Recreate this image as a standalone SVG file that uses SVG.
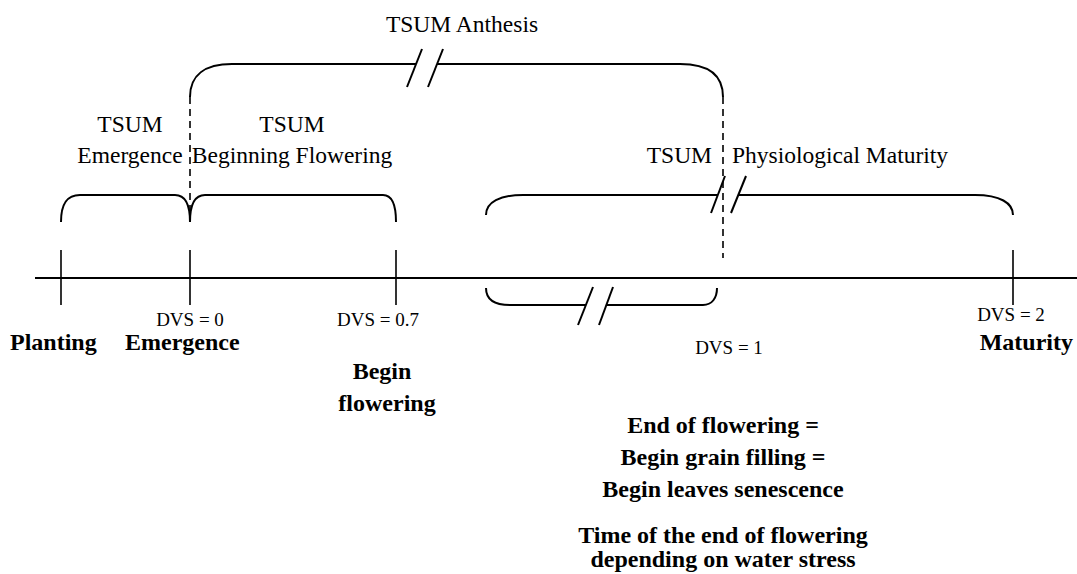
<svg xmlns="http://www.w3.org/2000/svg" width="1077" height="574" viewBox="0 0 1077 574">
<style>
.ln{fill:none;stroke:#000;stroke-width:2}
.tk{fill:none;stroke:#000;stroke-width:1.6}
.ds{fill:none;stroke:#000;stroke-width:1.6;stroke-dasharray:7 5}
text{font-family:'Liberation Serif','Times New Roman','DejaVu Serif',serif;fill:#000}
.t{font-size:23.5px}
.d{font-size:19px}
.b{font-size:24px;font-weight:bold}
.m{text-anchor:middle}
</style>
<rect width="1077" height="574" fill="#fff"/>
<g id="axis">
<line class="ln" x1="35" y1="278" x2="1077" y2="278"/>
<line class="tk" x1="61" y1="250" x2="61" y2="305"/>
<line class="tk" x1="190" y1="250" x2="190" y2="305"/>
<line class="tk" x1="396" y1="250" x2="396" y2="305"/>
<line class="tk" x1="1013" y1="250" x2="1013" y2="305"/>
</g>
<g id="connectors">
<line class="ds" x1="190" y1="97" x2="190" y2="212"/>
<line class="ds" x1="723" y1="97" x2="723" y2="258"/>
</g>
<g id="brace-emergence">
<path class="ln" d="M61,222 C61,205 66,195 80,195 L175,195 C186,195 190,205 190,222"/>
<text class="t m" x="130" y="132" font-family="Liberation Serif, serif">TSUM</text>
<text class="t m" x="130" y="163" font-family="Liberation Serif, serif">Emergence</text>
</g>
<g id="brace-beginflowering">
<path class="ln" d="M190,222 C190,205 194,195 205,195 L383,195 C392,195 396,205 396,222"/>
<text class="t m" x="292" y="132" font-family="Liberation Serif, serif">TSUM</text>
<text class="t m" x="292" y="163" font-family="Liberation Serif, serif">Beginning Flowering</text>
</g>
<g id="brace-anthesis">
<path class="ln" d="M190,97 C190,75 205,64 232,64 L416,64 M437,64 L680,64 C708,64 723,75 723,97"/>
<line class="ln" x1="407" y1="87" x2="422" y2="49"/>
<line class="ln" x1="428" y1="87" x2="443" y2="49"/>
<text class="t m" x="462" y="32" font-family="Liberation Serif, serif">TSUM Anthesis</text>
</g>
<g id="brace-maturity">
<path class="ln" d="M486,215 C486,202 500,195 523,195 L718,195 M738,195 L975,195 C1000,195 1013,203 1013,215"/>
<line class="ln" x1="711" y1="213" x2="725" y2="176"/>
<line class="ln" x1="731" y1="213" x2="746" y2="176"/>
<text class="t" x="712" y="163" text-anchor="end" font-family="Liberation Serif, serif">TSUM</text>
<text class="t" x="732" y="163" font-family="Liberation Serif, serif">Physiological Maturity</text>
</g>
<g id="brace-waterstress">
<path class="ln" d="M486,288 C486,299 494,305 510,305 L586,305 M606,305 L703,305 C712,305 717,298 717,288"/>
<line class="ln" x1="578" y1="325" x2="593" y2="287"/>
<line class="ln" x1="599" y1="325" x2="613" y2="287"/>
</g>
<g id="dvs-labels">
<text class="d m" x="190" y="326" font-family="Liberation Serif, serif">DVS = 0</text>
<text class="d m" x="378" y="326" font-family="Liberation Serif, serif">DVS = 0.7</text>
<text class="d m" x="729" y="354" font-family="Liberation Serif, serif">DVS = 1</text>
<text class="d m" x="1011" y="321" font-family="Liberation Serif, serif">DVS = 2</text>
</g>
<g id="stage-labels">
<text class="b" x="10" y="350" font-family="Liberation Serif, serif">Planting</text>
<text class="b" x="125" y="350" font-family="Liberation Serif, serif">Emergence</text>
<text class="b m" x="382" y="379" font-family="Liberation Serif, serif">Begin</text>
<text class="b m" x="387" y="411" font-family="Liberation Serif, serif">flowering</text>
<text class="b" x="1073" y="350" text-anchor="end" font-family="Liberation Serif, serif">Maturity</text>
<text class="b m" x="723" y="433" font-family="Liberation Serif, serif">End of flowering =</text>
<text class="b m" x="723" y="465" font-family="Liberation Serif, serif">Begin grain filling =</text>
<text class="b m" x="723" y="497" font-family="Liberation Serif, serif">Begin leaves senescence</text>
<text class="b m" x="723" y="543" font-family="Liberation Serif, serif">Time of the end of flowering</text>
<text class="b m" x="723" y="567" font-family="Liberation Serif, serif">depending on water stress</text>
</g>
</svg>
